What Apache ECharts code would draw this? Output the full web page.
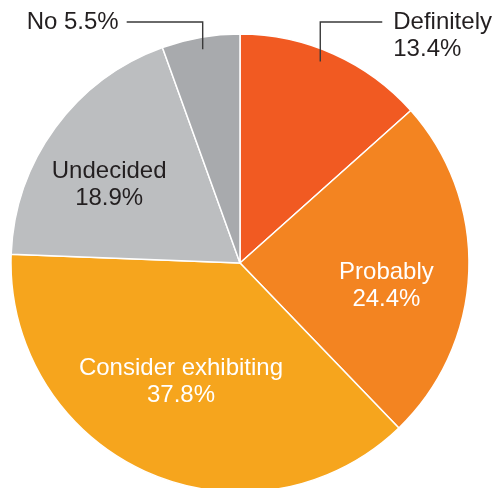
<!DOCTYPE html>
<html>
<head>
<meta charset="utf-8">
<script src="https://cdn.jsdelivr.net/npm/echarts@6/dist/echarts.min.js"></script>
<style>
  html, body { margin: 0; padding: 0; background: #fff; }
  #chart { width: 495px; height: 488px; }
</style>
</head>
<body>
<div id="chart"></div>
<script>
// 数据
var categories = ['Definitely', 'Probably', 'Consider exhibiting', 'Undecided', 'No'];
var shares = [13.4, 24.4, 37.8, 18.9, 5.5];
var sliceColors = ['#F15A22', '#F38421', '#F6A51D', '#BCBEC0', '#A8AAAD'];

var cx = 240, cy = 263, R = 229;
var darkText = '#231F20';
var outsideIdx = { 0: true, 4: true };

var myChart = echarts.init(document.getElementById('chart'));

// 扇形 + 内部标签
var pieData = [];
// 透明的一层, 只画外部标签和引线(在扇形上面)
var guideData = [];
for (var i = 0; i < categories.length; i++) {
  var item = { name: categories[i], value: shares[i], itemStyle: { color: sliceColors[i] } };
  var g = { name: categories[i], value: shares[i] };
  if (outsideIdx[i]) {
    item.label = { show: false };
    g.label = {
      show: true,
      position: 'outside',
      color: darkText,
      formatter: i === 4 ? '{b} {c}%' : '{b}\n{c}%'
    };
    g.labelLine = { show: true };
  } else {
    item.label = { position: 'inside', color: i === 3 ? darkText : '#fff' };
    g.label = { show: false };
    g.labelLine = { show: false };
  }
  pieData.push(item);
  guideData.push(g);
}

// 内部标签微调
var insideShift = { 1: [29, 18], 2: [-11, 12], 3: [-36, -9] };
// 引线起点在扇形里的位置(扇形角度的比例)
var anchorFrac = { 0: 0.45, 4: 0.5 };

function anchorPoint(idx) {
  var total = 0, before = 0;
  for (var k = 0; k < shares.length; k++) {
    total += shares[k];
    if (k < idx) before += shares[k];
  }
  var ang = (before + shares[idx] * anchorFrac[idx]) / total * Math.PI * 2;
  var rr = R - 12;
  return [cx + rr * Math.sin(ang), cy - rr * Math.cos(ang)];
}

var labelFont = {
  fontFamily: 'Liberation Sans, Arial, sans-serif',
  fontSize: 24,
  lineHeight: 27
};

myChart.setOption({
  animation: false,
  series: [{
    type: 'pie',
    z: 2,
    center: [cx, cy],
    radius: R,
    startAngle: 90,
    clockwise: true,
    avoidLabelOverlap: false,
    itemStyle: { borderColor: '#fff', borderWidth: 1.5 },
    label: Object.assign({ formatter: '{b}\n{c}%', color: '#fff' }, labelFont),
    labelLine: { show: false },
    emphasis: { disabled: true },
    labelLayout: function (params) {
      var s = insideShift[params.dataIndex];
      return s ? { dx: s[0], dy: s[1] } : {};
    },
    data: pieData
  }, {
    type: 'pie',
    z: 5,
    silent: true,
    center: [cx, cy],
    radius: R,
    startAngle: 90,
    clockwise: true,
    avoidLabelOverlap: false,
    itemStyle: { color: 'rgba(0,0,0,0)', borderWidth: 0 },
    label: labelFont,
    labelLine: {
      lineStyle: { color: '#3a3a3a', width: 1.4 }
    },
    emphasis: { disabled: true },
    labelLayout: function (params) {
      var idx = params.dataIndex;
      if (!outsideIdx[idx]) return {};
      var s = anchorPoint(idx);
      var lineY = 22;
      if (idx === 4) {
        return {
          x: s[0] - 84, y: lineY,
          align: 'right', verticalAlign: 'middle',
          labelLinePoints: [s, [s[0], lineY], [s[0] - 76, lineY]]
        };
      }
      return {
        x: s[0] + 73, y: lineY - 13,
        align: 'left', verticalAlign: 'top',
        labelLinePoints: [s, [s[0], lineY], [s[0] + 62, lineY]]
      };
    },
    data: guideData
  }]
});
</script>
</body>
</html>
